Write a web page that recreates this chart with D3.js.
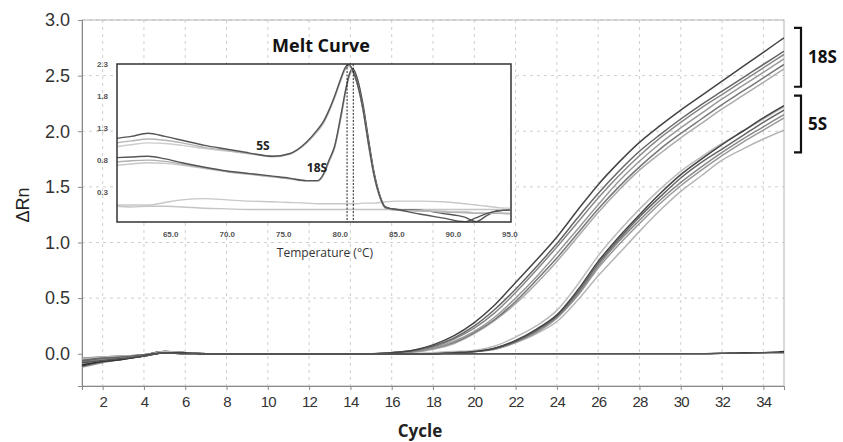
<!DOCTYPE html>
<html>
<head>
<meta charset="utf-8">
<script src="https://cdn.jsdelivr.net/npm/d3@7"></script>
<style>
  body { margin: 0; background: #fff; }
  svg { display: block; }
  .tick text { fill: #333; }
</style>
</head>
<body>
<div id="chart"></div>
<script>
// amplification plot data (cycle 1..35)
var cycles = [1,2,3,4,5,6,7,8,9,10,11,12,13,14,15,16,17,18,19,20,21,22,23,24,25,26,27,28,29,30,31,32,33,34,35];
var xTicks = [2,4,6,8,10,12,14,16,18,20,22,24,26,28,30,32,34];
var yTicks = [0.0,0.5,1.0,1.5,2.0,2.5,3.0];

var s18_1 = [-0.06,-0.04,-0.03,-0.01,0.02,0.01,0,0,0,0,0,0,0,0,0,0.01,0.03,0.08,0.16,0.28,0.44,0.64,0.84,1.05,1.29,1.52,1.72,1.9,2.05,2.19,2.32,2.45,2.58,2.71,2.84];
var s18_2 = [-0.08,-0.05,-0.03,-0.02,0.01,0.01,0,0,0,0,0,0,0,0,0,0.01,0.03,0.07,0.14,0.25,0.4,0.58,0.78,0.99,1.22,1.44,1.64,1.82,1.97,2.11,2.24,2.36,2.48,2.6,2.72];
var s18_3 = [-0.04,-0.03,-0.02,-0.01,0.02,0.01,0,0,0,0,0,0,0,0,0,0.01,0.02,0.06,0.13,0.23,0.37,0.55,0.75,0.96,1.18,1.4,1.6,1.78,1.94,2.08,2.21,2.33,2.45,2.57,2.69];
var s18_4 = [-0.1,-0.07,-0.04,-0.02,0.01,0.01,0,0,0,0,0,0,0,0,0,0,0.02,0.05,0.11,0.2,0.33,0.5,0.69,0.9,1.12,1.34,1.55,1.73,1.89,2.03,2.16,2.29,2.41,2.53,2.65];
var s18_5 = [-0.07,-0.05,-0.03,-0.01,0.02,0.01,0,0,0,0,0,0,0,0,0,0,0.02,0.05,0.1,0.19,0.31,0.47,0.66,0.86,1.08,1.3,1.5,1.68,1.84,1.98,2.11,2.24,2.36,2.48,2.6];
var s18_6 = [-0.05,-0.03,-0.02,-0.01,0.01,0.01,0,0,0,0,0,0,0,0,0,0,0.01,0.04,0.09,0.18,0.3,0.45,0.63,0.83,1.05,1.27,1.47,1.65,1.8,1.94,2.07,2.2,2.32,2.44,2.56];

var s5_1 = [-0.09,-0.06,-0.04,-0.02,0.02,0.01,0,0,0,0,0,0,0,0,0,0,0,0.01,0.02,0.03,0.07,0.15,0.25,0.39,0.62,0.88,1.1,1.3,1.48,1.64,1.77,1.89,2.0,2.11,2.22];
var s5_2 = [-0.11,-0.07,-0.05,-0.02,0.01,0.01,0,0,0,0,0,0,0,0,0,0,0,0,0.01,0.02,0.05,0.12,0.22,0.35,0.57,0.83,1.05,1.25,1.44,1.61,1.75,1.88,2.0,2.12,2.23];
var s5_3 = [-0.06,-0.04,-0.03,-0.01,0.02,0.01,0,0,0,0,0,0,0,0,0,0,0,0,0.01,0.02,0.05,0.11,0.21,0.34,0.55,0.81,1.03,1.23,1.41,1.58,1.72,1.84,1.96,2.08,2.19];
var s5_4 = [-0.08,-0.05,-0.03,-0.02,0.01,0.01,0,0,0,0,0,0,0,0,0,0,0,0,0.01,0.02,0.05,0.11,0.2,0.33,0.53,0.79,1.01,1.2,1.38,1.54,1.68,1.81,1.93,2.04,2.15];
var s5_5 = [-0.12,-0.08,-0.05,-0.02,0.01,0.01,0,0,0,0,0,0,0,0,0,0,0,0,0.01,0.02,0.04,0.1,0.19,0.32,0.52,0.77,0.98,1.17,1.35,1.51,1.65,1.78,1.9,2.01,2.12];
var s5_6 = [-0.05,-0.03,-0.02,-0.01,0.02,0.01,0,0,0,0,0,0,0,0,0,0,0,0,0.01,0.02,0.04,0.1,0.18,0.29,0.48,0.7,0.9,1.1,1.29,1.46,1.6,1.74,1.84,1.93,2.01];

var ntc_1 = [-0.1,-0.07,-0.05,-0.02,0.01,0,0,0,0,0,0,0,0,0,0,0,0,0,0,0,0,0,0,0,0,0,0,0,0,0,0,0.005,0.01,0.01,0.02];
var ntc_2 = [-0.08,-0.06,-0.04,-0.02,0.01,0,0,0,0,0,0,0,0,0,0,0,0,0,0,0,0,0,0,0,0,0,0,0,0,0,0,0.005,0.005,0.01,0.01];

// melt curve inset data
var temps = [60.25,61.5,63,64.5,66,68,70,72,74,75.5,77,78,78.5,79,79.5,80,80.5,80.8,81.1,81.5,82,82.5,83,83.5,84,85,87,89,91,92,93,94,95];
var melt5_a = [1.14,1.17,1.22,1.17,1.11,1.03,0.97,0.91,0.86,0.9,1.08,1.28,1.4,1.58,1.8,2.05,2.26,2.29,2.2,2.0,1.6,1.05,0.55,0.23,0.06,0.03,-0.04,-0.1,-0.16,-0.1,-0.03,0.01,0.02];
var melt5_b = [1.07,1.1,1.13,1.11,1.07,1.0,0.95,0.9,0.86,0.9,1.07,1.26,1.38,1.56,1.78,2.03,2.24,2.27,2.19,1.99,1.6,1.04,0.55,0.22,0.05,0.02,0.01,-0.01,-0.02,-0.03,-0.03,-0.03,-0.04];
var melt5_c = [1.01,1.04,1.07,1.06,1.03,0.98,0.94,0.9,0.85,0.89,1.06,1.25,1.37,1.55,1.77,2.02,2.23,2.26,2.18,1.98,1.58,1.03,0.54,0.22,0.05,0.02,0.01,0.0,-0.01,-0.02,-0.02,-0.02,-0.03];
var melt18_a = [0.84,0.85,0.86,0.82,0.76,0.69,0.63,0.59,0.55,0.52,0.48,0.48,0.58,0.8,1.02,1.45,1.92,2.14,2.23,2.08,1.68,1.12,0.6,0.25,0.07,0.03,0.02,-0.03,-0.09,-0.16,-0.06,0.01,0.02];
var melt18_b = [0.77,0.79,0.8,0.78,0.74,0.68,0.62,0.58,0.54,0.51,0.48,0.48,0.57,0.78,1.0,1.42,1.9,2.12,2.21,2.06,1.66,1.1,0.58,0.24,0.06,0.02,0.01,0.0,-0.01,-0.02,-0.02,-0.03,-0.03];
var melt18_c = [0.72,0.74,0.76,0.75,0.72,0.67,0.62,0.58,0.54,0.51,0.47,0.47,0.56,0.77,0.99,1.4,1.88,2.1,2.2,2.05,1.65,1.1,0.58,0.24,0.06,0.02,0.01,0.0,-0.01,-0.02,-0.02,-0.03,-0.03];
var meltFlat_a = [0.1,0.1,0.1,0.14,0.18,0.2,0.18,0.16,0.15,0.14,0.13,0.12,0.12,0.12,0.12,0.12,0.12,0.12,0.12,0.12,0.13,0.13,0.13,0.14,0.15,0.16,0.16,0.15,0.12,0.1,0.08,0.06,0.05];
var meltFlat_b = [0.08,0.07,0.08,0.08,0.07,0.05,0.04,0.03,0.03,0.03,0.03,0.03,0.03,0.03,0.03,0.03,0.03,0.03,0.03,0.03,0.03,0.03,0.03,0.03,0.03,0.03,0.03,0.03,0.03,0.03,0.03,0.03,0.03];
var meltPeaks = [80.6, 81.15];
var meltXTicks = [65,70,75,80,85,90,95];
var meltYTicks = [0.3,0.8,1.3,1.8,2.3];

var W = 843, H = 442;
var svg = d3.select("#chart").append("svg")
    .attr("width", W)
    .attr("height", H);

var x = d3.scaleLinear().domain([1, 35]).range([82, 784]);
var y = d3.scaleLinear().domain([-0.29, 3.0]).range([386, 20]);

//grid
svg.append("g").selectAll("line").data(xTicks).enter().append("line")
    .attr("x1", function(d){ return x(d); }).attr("x2", function(d){ return x(d); })
    .attr("y1", y.range()[1]).attr("y2", y.range()[0])
    .attr("stroke", "#cfcfcf").attr("stroke-dasharray", "3,4");
svg.append("g").selectAll("line").data(yTicks.slice(1)).enter().append("line")
    .attr("y1", function(d){ return y(d); }).attr("y2", function(d){ return y(d); })
    .attr("x1", x.range()[0]).attr("x2", x.range()[1])
    .attr("stroke", "#cfcfcf").attr("stroke-dasharray", "3,4");

svg.append("rect")
    .attr("x", x.range()[0]).attr("y", y.range()[1])
    .attr("width", x.range()[1] - x.range()[0]).attr("height", y.range()[0] - y.range()[1])
    .attr("fill", "none").attr("stroke", "#b5b5b5");

// axes
var yAxis = svg.append("g").attr("transform", "translate(" + x.range()[0] + ",0)")
    .call(d3.axisLeft(y).tickValues(yTicks).tickFormat(d3.format(".1f")).tickSize(4).tickPadding(8));
yAxis.selectAll("text").style("font-family", "Liberation Sans, Arial, sans-serif").style("font-size", "18px");
var xAxis = svg.append("g").attr("transform", "translate(0," + y.range()[0] + ")")
    .call(d3.axisBottom(x).tickValues(xTicks).tickSize(4).tickPadding(6));
xAxis.selectAll("text").style("font-family", "Liberation Sans, Arial, sans-serif").style("font-size", "15px").style("letter-spacing", "-0.8px");
svg.selectAll(".domain").attr("stroke", "#888");
svg.selectAll(".tick line").attr("stroke", "#888");

// amplification curves
svg.append("clipPath").attr("id", "plotclip").append("rect")
    .attr("x", x.range()[0]).attr("y", y.range()[1])
    .attr("width", x.range()[1] - x.range()[0]).attr("height", y.range()[0] - y.range()[1]);

var amp = [
    {v: s18_6, c: "#aaa"}, {v: s18_5, c: "#777"}, {v: s18_4, c: "#999"},
    {v: s18_3, c: "#888"}, {v: s18_2, c: "#666"}, {v: s18_1, c: "#444"},
    {v: s5_6, c: "#b5b5b5"}, {v: s5_5, c: "#999"}, {v: s5_4, c: "#888"},
    {v: s5_3, c: "#666"}, {v: s5_1, c: "#bbb"}, {v: s5_2, c: "#444"},
    {v: ntc_1, c: "#333"}, {v: ntc_2, c: "#555"}
];
var line = d3.line()
    .x(function(d, i){ return x(cycles[i]); })
    .y(function(d){ return y(d); })
    .curve(d3.curveMonotoneX);

svg.append("g").attr("clip-path", "url(#plotclip)")
    .selectAll("path").data(amp).enter().append("path")
    .attr("d", function(d){ return line(d.v); })
    .attr("fill", "none")
    .attr("stroke", function(d){ return d.c; })
    .attr("stroke-width", 1.5);

// axis titles
svg.append("text").attr("x", 420).attr("y", 437).attr("text-anchor", "middle")
    .style("font-family", "Open Sans, sans-serif").style("font-weight", "bold").style("font-size", "17px")
    .attr("fill", "#222").text("Cycle");
svg.append("text").attr("transform", "translate(29,205) rotate(-90)").attr("text-anchor", "middle")
    .style("font-family", "Liberation Sans, Arial, sans-serif").style("font-size", "18px")
    .attr("fill", "#222").text("ΔRn");

// group brackets
var groups = [{name: "18S", top: 2.93, bottom: 2.4}, {name: "5S", top: 2.32, bottom: 1.81}];
var br = svg.append("g").selectAll("g").data(groups).enter().append("g");
br.append("path")
    .attr("d", function(d){ return "M794," + y(d.top) + "H801V" + y(d.bottom) + "H794"; })
    .attr("fill", "none").attr("stroke", "#111").attr("stroke-width", 2.2);
br.append("text")
    .attr("x", 808).attr("y", function(d){ return (y(d.top) + y(d.bottom)) / 2 + 6; })
    .style("font-family", "Open Sans, sans-serif").style("font-weight", "bold").style("font-size", "17px")
    .attr("fill", "#111").text(function(d){ return d.name; });

// melt curve inset
var ix = d3.scaleLinear().domain([60.25, 95.1]).range([117, 511]);
var iy = d3.scaleLinear().domain([-0.165, 2.3]).range([222, 64]);
var inset = svg.append("g");

inset.append("rect")
    .attr("x", ix.range()[0]).attr("y", iy.range()[1])
    .attr("width", ix.range()[1] - ix.range()[0]).attr("height", iy.range()[0] - iy.range()[1])
    .attr("fill", "#fff");

inset.append("clipPath").attr("id", "insetclip").append("rect")
    .attr("x", ix.range()[0]).attr("y", iy.range()[1])
    .attr("width", ix.range()[1] - ix.range()[0]).attr("height", iy.range()[0] - iy.range()[1]);

var melt = [
    {v: meltFlat_b, c: "#c4c4c4"}, {v: meltFlat_a, c: "#c8c8c8"},
    {v: melt18_c, c: "#c8c8c8"}, {v: melt18_b, c: "#b0b0b0"}, {v: melt18_a, c: "#555"},
    {v: melt5_c, c: "#cdcdcd"}, {v: melt5_b, c: "#b5b5b5"}, {v: melt5_a, c: "#555"}
];
var mline = d3.line()
    .x(function(d, i){ return ix(temps[i]); })
    .y(function(d){ return iy(d); })
    .curve(d3.curveMonotoneX);
inset.append("g").attr("clip-path", "url(#insetclip)")
    .selectAll("path").data(melt).enter().append("path")
    .attr("d", function(d){ return mline(d.v); })
    .attr("fill", "none")
    .attr("stroke", function(d){ return d.c; })
    .attr("stroke-width", 1.4);

inset.selectAll(".peak").data(meltPeaks).enter().append("line")
    .attr("class", "peak")
    .attr("x1", function(d){ return ix(d); }).attr("x2", function(d){ return ix(d); })
    .attr("y1", iy.range()[1]).attr("y2", iy.range()[0])
    .attr("stroke", "#222").attr("stroke-width", 1).attr("stroke-dasharray", "2,1.5");

inset.append("rect")
    .attr("x", ix.range()[0]).attr("y", iy.range()[1])
    .attr("width", ix.range()[1] - ix.range()[0]).attr("height", iy.range()[0] - iy.range()[1])
    .attr("fill", "none").attr("stroke", "#333").attr("stroke-width", 1.5);

inset.selectAll(".mx").data(meltXTicks).enter().append("text")
    .attr("class", "mx")
    .attr("x", function(d){ return ix(d); }).attr("y", 237)
    .attr("text-anchor", "middle")
    .style("font-family", "Liberation Sans, Arial, sans-serif").style("font-size", "8px").style("font-weight", "bold")
    .attr("fill", "#555").text(function(d){ return d3.format(".1f")(d); });
inset.selectAll(".my").data(meltYTicks).enter().append("text")
    .attr("class", "my")
    .attr("x", 108).attr("y", function(d){ return iy(d) + 3; })
    .attr("text-anchor", "end")
    .style("font-family", "Liberation Sans, Arial, sans-serif").style("font-size", "8px").style("font-weight", "bold")
    .attr("fill", "#555").text(function(d){ return d3.format(".1f")(d); });

inset.append("text").attr("x", 321).attr("y", 52).attr("text-anchor", "middle")
    .style("font-family", "Open Sans, sans-serif").style("font-weight", "bold").style("font-size", "18px")
    .attr("fill", "#111").text("Melt  Curve");
inset.append("text").attr("x", 325).attr("y", 257).attr("text-anchor", "middle")
    .style("font-family", "Open Sans, sans-serif").style("font-size", "12px")
    .attr("fill", "#333").text("Temperature (°C)");
inset.append("text").attr("x", 263).attr("y", 150).attr("text-anchor", "middle")
    .style("font-family", "Open Sans, sans-serif").style("font-weight", "bold").style("font-size", "12px")
    .attr("fill", "#222").text("5S");
inset.append("text").attr("x", 317).attr("y", 172).attr("text-anchor", "middle")
    .style("font-family", "Open Sans, sans-serif").style("font-weight", "bold").style("font-size", "12px")
    .attr("fill", "#222").text("18S");
</script>
</body>
</html>
